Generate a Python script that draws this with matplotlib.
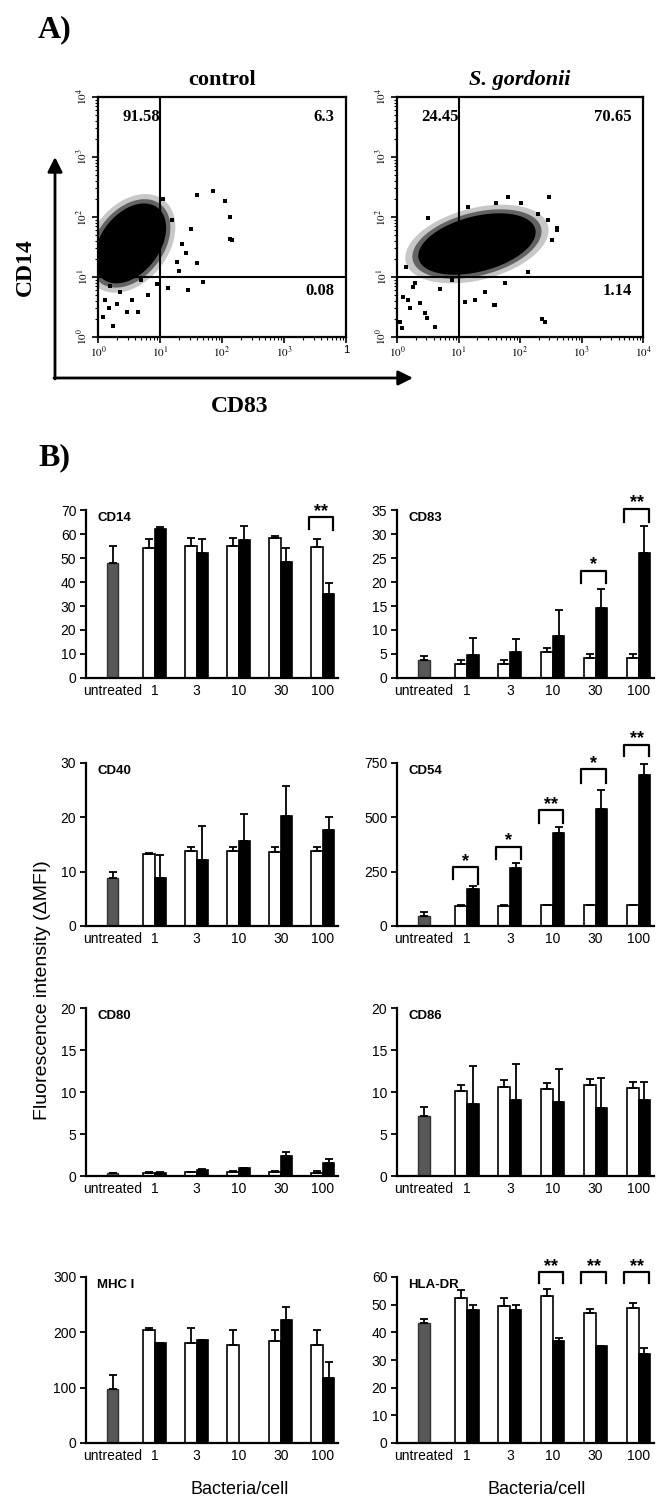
import numpy as np
import matplotlib
matplotlib.use('Agg')
import matplotlib.pyplot as plt
from matplotlib.ticker import FixedLocator, NullFormatter

plt.rcParams['font.family'] = ['Liberation Sans', 'DejaVu Sans']
plt.rcParams['mathtext.fontset'] = 'stix'

# ---------------- data ----------------
doses = ['untreated', '1', '3', '10', '30', '100']

# panel A: flow cytometry quadrant percentages
ctrl_quadrants = ['91.58', '6.3', '0.08']
sg_quadrants = ['24.45', '70.65', '1.14']
ctrl_xticklabels = ['$10^0$', '$10^1$', '$10^2$', '$10^3$', '1']
sg_xticklabels = ['$10^0$', '$10^1$', '$10^2$', '$10^3$', '$10^4$']
yticklabels_flow = ['$10^0$', '$10^1$', '$10^2$', '$10^3$', '$10^4$']

# dense part of each cloud, log10 decades: centre x, centre y, half-axes, tilt
ctrl_cloud = [0.52, 1.56, 0.74, 0.48, 55]
sg_cloud = [1.30, 1.55, 0.98, 0.46, 15]

# stray events (log10 CD83, log10 CD14)
ctrl_sparse_x = [1.85, 2.13, 2.13, 2.05, 1.60, 2.16, 1.70, 1.45, 1.13, 0.24, 0.47, 0.65,
                 0.08, 0.18, 1.60, 1.27, 1.35, 1.50, 1.20, 1.05, 0.35, 0.55, 0.80, 0.95,
                 0.12, 0.30, 1.42, 1.30, 0.20, 0.70]
ctrl_sparse_y = [2.43, 2.00, 1.63, 2.27, 2.37, 1.62, 0.92, 0.78, 0.82, 0.18, 0.42, 0.42,
                 0.33, 0.48, 1.23, 1.25, 1.55, 1.80, 1.95, 2.30, 0.75, 0.62, 0.70, 0.88,
                 0.62, 0.55, 1.40, 1.10, 0.85, 0.95]
sg_sparse_x = [2.36, 1.58, 0.05, 0.08, 0.62, 0.48, 0.21, 0.37, 1.10, 1.27, 1.43, 1.76,
               2.13, 2.52, 2.60, 0.10, 0.26, 2.47, 2.02, 1.61, 1.80, 1.15, 2.60, 0.50,
               0.15, 0.18, 0.46, 1.60, 2.40, 0.30, 0.70, 0.90, 2.30, 2.45]
sg_sparse_y = [0.30, 0.53, 0.25, 0.15, 0.17, 0.32, 0.48, 0.57, 0.58, 0.62, 0.75, 0.90,
               1.08, 1.62, 1.82, 0.67, 0.83, 2.33, 2.23, 2.23, 2.33, 2.17, 1.78, 1.98,
               1.17, 0.62, 0.40, 0.53, 0.25, 0.90, 0.80, 0.95, 2.05, 1.95]

# panel B: delta MFI (mean, upper SD); untreated, then 1..100 bacteria/cell
cd14_untreated = [48, 7]
cd14_white = [54, 55, 55, 58.5, 54.5]
cd14_white_sd = [4, 3.5, 3.5, 0.5, 3.5]
cd14_black = [62, 52, 57.5, 48.5, 35]
cd14_black_sd = [0.8, 6, 6, 5.5, 4.5]
cd14_sig = [(5, '**', 67, 62, 61.5)]

cd83_untreated = [3.8, 0.7]
cd83_white = [3.0, 3.0, 5.4, 4.2, 4.2]
cd83_white_sd = [0.8, 0.8, 0.9, 0.9, 0.9]
cd83_black = [4.7, 5.4, 8.7, 14.6, 26]
cd83_black_sd = [3.7, 2.8, 5.5, 3.9, 5.7]
cd83_sig = [(4, '*', 22.3, 19.7, 19.7), (5, '**', 35.3, 32.6, 32.6)]

cd40_untreated = [8.8, 1.2]
cd40_white = [13.2, 13.8, 13.8, 13.7, 13.8]
cd40_white_sd = [0.2, 0.7, 0.7, 0.8, 0.7]
cd40_black = [8.8, 12.2, 15.7, 20.3, 17.7]
cd40_black_sd = [4.2, 6.2, 5.0, 5.5, 2.4]
cd40_sig = []

cd54_untreated = [45, 20]
cd54_white = [90, 90, 95, 95, 95]
cd54_white_sd = [5, 5, 3, 3, 3]
cd54_black = [170, 265, 428, 540, 697]
cd54_black_sd = [15, 25, 27, 88, 50]
cd54_sig = [(1, '*', 270, 215, 195), (2, '*', 365, 310, 310), (3, '**', 534, 475, 475),
            (4, '*', 721, 657, 657), (5, '**', 835, 780, 780)]

cd80_untreated = [0.4, 0]
cd80_white = [0.4, 0.45, 0.5, 0.5, 0.4]
cd80_white_sd = [0.05, 0.05, 0.1, 0.1, 0.2]
cd80_black = [0.4, 0.7, 0.9, 2.4, 1.6]
cd80_black_sd = [0.1, 0.1, 0.1, 0.5, 0.4]
cd80_sig = []

cd86_untreated = [7.1, 1.1]
cd86_white = [10.1, 10.6, 10.3, 10.8, 10.5]
cd86_white_sd = [0.7, 0.8, 0.8, 0.8, 0.7]
cd86_black = [8.6, 9.0, 8.8, 8.1, 9.1]
cd86_black_sd = [4.5, 4.3, 3.9, 3.6, 2.1]
cd86_sig = []

mhc1_untreated = [98, 24]
mhc1_white = [205, 180, 178, 184, 178]
mhc1_white_sd = [2, 27, 26, 21, 26]
mhc1_black = [180, 186, np.nan, 222, 118]
mhc1_black_sd = [0, 0, 0, 23, 28]
mhc1_sig = []

hladr_untreated = [43.5, 1.2]
hladr_white = [52.3, 49.5, 53.3, 47, 48.7]
hladr_white_sd = [3, 2.8, 2.4, 1.5, 2]
hladr_black = [48, 48, 37, 35.2, 32.2]
hladr_black_sd = [2, 2, 1, 0, 2]
hladr_sig = [(3, '**', 61.8, 58, 58), (4, '**', 61.8, 58, 58), (5, '**', 61.8, 58, 58)]

# ---------------- figure ----------------
W, H = 666, 1500
fig = plt.figure(figsize=(W / 100, H / 100), dpi=100)
SERIF = ['Liberation Serif', 'DejaVu Serif']


def px_axes(left, top, right, bottom):
    return fig.add_axes([left / W, 1 - bottom / H, (right - left) / W, (bottom - top) / H])


def ftext(x, y, s, **kw):
    fig.text(x / W, 1 - y / H, s, **kw)


def blob(ax, cx, cy, a, b, ang, **kw):
    t = np.linspace(0, 2 * np.pi, 240)
    th = np.deg2rad(ang)
    xs = cx + a * np.cos(t) * np.cos(th) - b * np.sin(t) * np.sin(th)
    ys = cy + a * np.cos(t) * np.sin(th) + b * np.sin(t) * np.cos(th)
    ax.fill(10 ** xs, 10 ** ys, lw=0, **kw)


def flow_panel(ax, cloud, sx, sy, quads, xlabels):
    ax.set_xscale('log')
    ax.set_yscale('log')
    cx, cy, a, b, ang = cloud
    blob(ax, cx, cy, a * 1.22, b * 1.3, ang, color='k', alpha=0.22)
    blob(ax, cx, cy, a * 1.1, b * 1.14, ang, color='k', alpha=0.5)
    blob(ax, cx, cy, a, b, ang, color='k')
    ax.scatter(10 ** np.array(sx), 10 ** np.array(sy), s=5, marker='s', c='k', linewidths=0)
    ax.axvline(10, color='k', lw=1.5)
    ax.axhline(10, color='k', lw=1.5)
    ax.set_xlim(1, 1e4)
    ax.set_ylim(1, 1e4)
    dec = [1, 10, 100, 1000, 10000]
    ax.xaxis.set_major_locator(FixedLocator(dec))
    ax.yaxis.set_major_locator(FixedLocator(dec))
    minors = [m * 10 ** k for k in range(4) for m in range(2, 10)]
    ax.xaxis.set_minor_locator(FixedLocator(minors))
    ax.yaxis.set_minor_locator(FixedLocator(minors))
    ax.xaxis.set_minor_formatter(NullFormatter())
    ax.yaxis.set_minor_formatter(NullFormatter())
    ax.set_xticklabels(xlabels, fontsize=8)
    ax.set_yticklabels(yticklabels_flow, fontsize=8, rotation=90, va='center')
    ax.tick_params(which='major', direction='out', length=4, width=1.2, pad=2)
    ax.tick_params(which='minor', direction='out', length=2, width=0.8)
    for sp in ax.spines.values():
        sp.set_linewidth(1.6)
    qkw = dict(transform=ax.transAxes, fontsize=12, fontweight='bold', family=SERIF, va='center')
    ax.text(0.10, 0.915, quads[0], ha='left', **qkw)
    ax.text(0.955, 0.915, quads[1], ha='right', **qkw)
    ax.text(0.955, 0.19, quads[2], ha='right', **qkw)


ax_c = px_axes(98, 97, 346, 337)
flow_panel(ax_c, ctrl_cloud, ctrl_sparse_x, ctrl_sparse_y, ctrl_quadrants, ctrl_xticklabels)
ax_s = px_axes(397, 97, 643, 337)
flow_panel(ax_s, sg_cloud, sg_sparse_x, sg_sparse_y, sg_quadrants, sg_xticklabels)

ftext(38, 30, 'A)', fontsize=23, fontweight='bold', family=SERIF, va='center')
ftext(38, 458, 'B)', fontsize=23, fontweight='bold', family=SERIF, va='center')
ftext(222, 80, 'control', fontsize=16, fontweight='bold', family=SERIF, ha='center', va='center')
ftext(520, 80, 'S. gordonii', fontsize=16, fontweight='bold', fontstyle='italic',
      family=SERIF, ha='center', va='center')
ftext(25, 267, 'CD14', fontsize=17, fontweight='bold', family=SERIF, rotation=90,
      ha='center', va='center')
ftext(240, 407, 'CD83', fontsize=17, fontweight='bold', family=SERIF, ha='center', va='center')

arrow = dict(arrowstyle='-|>', lw=2, color='k', mutation_scale=22, shrinkA=0, shrinkB=0)
plt.annotate('', xy=(55, H - 157), xytext=(55, H - 379), xycoords='figure pixels',
             textcoords='figure pixels', arrowprops=arrow)
plt.annotate('', xy=(413, H - 378), xytext=(54, H - 378), xycoords='figure pixels',
             textcoords='figure pixels', arrowprops=arrow)

# ---------------- panel B ----------------
panels = [
    ('CD14', cd14_untreated, cd14_white, cd14_white_sd, cd14_black, cd14_black_sd, cd14_sig,
     [0, 10, 20, 30, 40, 50, 60, 70]),
    ('CD83', cd83_untreated, cd83_white, cd83_white_sd, cd83_black, cd83_black_sd, cd83_sig,
     [0, 5, 10, 15, 20, 25, 30, 35]),
    ('CD40', cd40_untreated, cd40_white, cd40_white_sd, cd40_black, cd40_black_sd, cd40_sig,
     [0, 10, 20, 30]),
    ('CD54', cd54_untreated, cd54_white, cd54_white_sd, cd54_black, cd54_black_sd, cd54_sig,
     [0, 250, 500, 750]),
    ('CD80', cd80_untreated, cd80_white, cd80_white_sd, cd80_black, cd80_black_sd, cd80_sig,
     [0, 5, 10, 15, 20]),
    ('CD86', cd86_untreated, cd86_white, cd86_white_sd, cd86_black, cd86_black_sd, cd86_sig,
     [0, 5, 10, 15, 20]),
    ('MHC I', mhc1_untreated, mhc1_white, mhc1_white_sd, mhc1_black, mhc1_black_sd, mhc1_sig,
     [0, 100, 200, 300]),
    ('HLA-DR', hladr_untreated, hladr_white, hladr_white_sd, hladr_black, hladr_black_sd,
     hladr_sig, [0, 10, 20, 30, 40, 50, 60]),
]

cols = [(86, 338), (397, 654)]
rows = [(510, 678), (763, 926), (1008, 1176), (1277, 1443)]

x = np.arange(len(doses))
xg = x[1:]
bw = 0.27
err_kw = dict(fmt='none', ecolor='k', elinewidth=1.3, capsize=2.6, capthick=1.3)

for i, (name, un, wv, wsd, bv, bsd, sig, yt) in enumerate(panels):
    l, r = cols[i % 2]
    t, b = rows[i // 2]
    ax = px_axes(l, t, r, b)
    ax.bar(0, un[0], width=bw, color='#585858', edgecolor='#333333', lw=1)
    ax.errorbar(0, un[0], yerr=[[0], [un[1]]], **err_kw)
    ax.bar(xg - bw / 2, wv, width=bw, color='white', edgecolor='k', lw=1.2)
    ax.errorbar(xg - bw / 2, wv, yerr=[np.zeros(5), wsd], **err_kw)
    ax.bar(xg + bw / 2, bv, width=bw, color='k', edgecolor='k', lw=1.2)
    ax.errorbar(xg + bw / 2, bv, yerr=[np.zeros(5), bsd], **err_kw)
    ax.set_xlim(-0.63, 5.36)
    ax.set_ylim(0, yt[-1])
    ax.set_yticks(yt)
    ax.set_yticklabels([str(v) for v in yt], fontsize=10)
    ax.set_xticks(x)
    ax.set_xticklabels(doses, fontsize=10)
    ax.tick_params(axis='y', direction='out', length=4, width=1.3, pad=3)
    ax.tick_params(axis='x', length=0, pad=4)
    for s in ('top', 'right'):
        ax.spines[s].set_visible(False)
    ax.spines['left'].set_linewidth(1.6)
    ax.spines['bottom'].set_linewidth(1.6)
    ax.text(0.045, 1 - 8 / (b - t), name, transform=ax.transAxes, fontsize=9.5,
            fontweight='bold', va='center', ha='left')
    top = yt[-1]
    for gi, lab, ytop, lb, rb in sig:
        xl, xr = gi - 0.33, gi + 0.25
        ax.plot([xl, xl, xr, xr], [lb, ytop, ytop, rb], color='k', lw=1.6, clip_on=False)
        ax.text((xl + xr) / 2, ytop + 0.035 * top, lab, ha='center', va='center',
                fontsize=13, fontweight='bold', clip_on=False)

ftext(43, 990, 'Fluorescence intensity (\u0394MFI)', fontsize=14, rotation=90,
      ha='center', va='center')
ftext(240, 1490, 'Bacteria/cell', fontsize=13, ha='center', va='center')
ftext(537, 1490, 'Bacteria/cell', fontsize=13, ha='center', va='center')

fig.savefig('out.png', dpi=100, facecolor='white')
